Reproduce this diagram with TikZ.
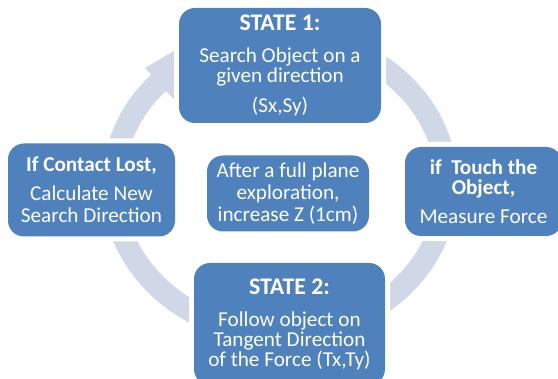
\documentclass[tikz,border=0pt]{standalone}
\usepackage{fontspec}
\setmainfont{Carlito}
\usepackage{tikz}
\usetikzlibrary{positioning}
\definecolor{boxblue}{RGB}{79,129,189}
\definecolor{ringblue}{RGB}{208,216,232}
\newcommand{\stitle}[1]{{\fontsize{23.8}{21}\selectfont\bfseries #1}}
\newcommand{\btitle}[1]{{\bfseries #1}}

\begin{document}
\begin{tikzpicture}[
  x=1pt, y=-1pt,
  font=\fontsize{21.2}{21}\selectfont,
  box/.style={fill=boxblue, text=white, rounded corners=16pt, align=center,
              inner sep=0pt, preaction={draw=white, line width=10pt}},
  ring/.style={draw=ringblue, line width=22pt},
]
  \useasboundingbox (0,0) rectangle (558,379);
  \clip (0,0) rectangle (558,379);

  % --- cycle ring with its head -----------------------------------
  \draw[ring] (280,185) ellipse [x radius=167pt, y radius=149pt];
  \fill[ringblue] (145,68) -- (199,36) -- (173.4,98.8) -- cycle;

  % --- states -----------------------------------------------------
  \node[box, minimum width=202pt, minimum height=115pt] (s1) at (280,65.5)
    {\stitle{STATE 1:}\\[11pt] Search Object on a\\[-1pt] given direction\\[9pt] (Sx,Sy)};
  \node[box, minimum width=157pt, minimum height=89pt] (touch) at (483.5,191.5)
    {\btitle{if\ \ Touch the}\\[-1pt] \btitle{Object,}\\[8pt] Measure Force};
  \node[box, minimum width=191pt, minimum height=122pt] (s2) at (289.5,324)
    {\stitle{STATE 2:}\\[11pt] Follow object on\\[-1pt] Tangent Direction\\[-1pt] of the Force (Tx,Ty)};
  \node[box, minimum width=167pt, minimum height=93pt] (lost) at (91.5,190)
    {\btitle{If Contact Lost,}\\[8pt] Calculate New\\[1pt] Search Direction};

  % --- centre note ------------------------------------------------
  \node[box, minimum width=162pt, minimum height=76pt] (plane) at (288,193.5)
    {After a full plane\\[1pt] exploration,\\[1pt] increase Z (1cm)};
\end{tikzpicture}
\end{document}
